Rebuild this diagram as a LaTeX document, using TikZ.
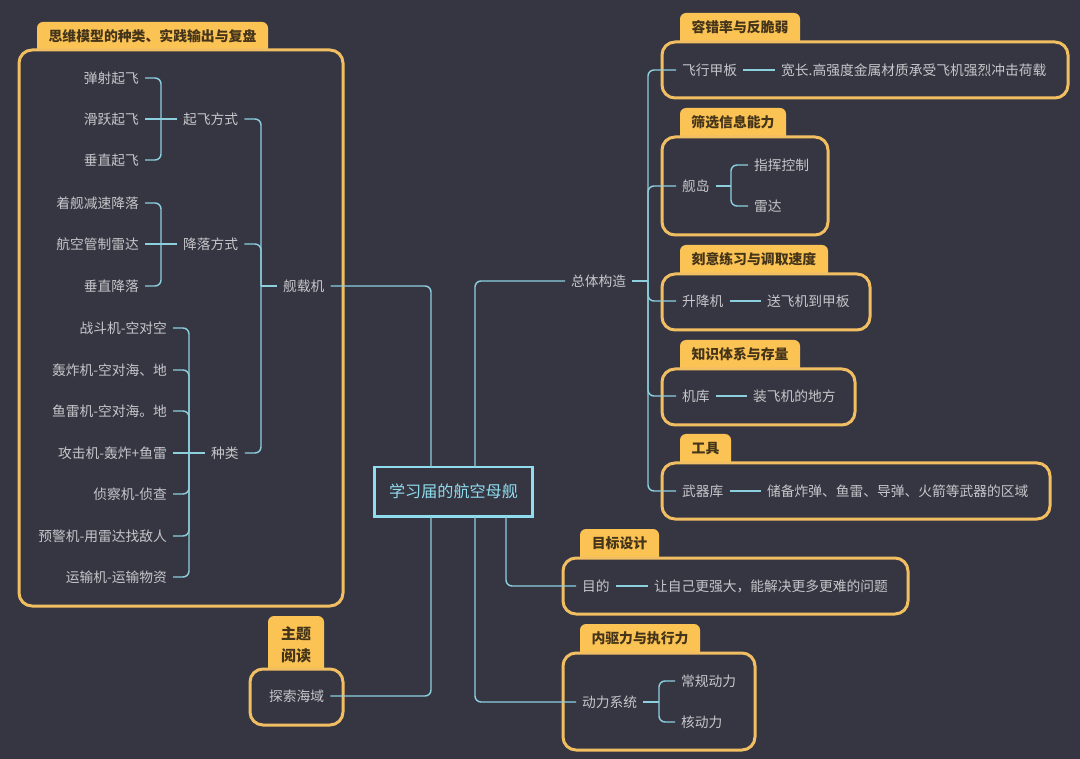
\documentclass[tikz,border=0pt]{standalone}
\usepackage{fontspec}
\setmainfont{Noto Sans CJK SC}
\definecolor{bg}{HTML}{363642}
\definecolor{ink}{HTML}{C6C6CB}
\definecolor{wire}{HTML}{8CCFDF}
\definecolor{rootc}{HTML}{8FDDEE}
\definecolor{edge}{HTML}{F2BE62}
\definecolor{tabc}{HTML}{FBC254}
\definecolor{tabink}{HTML}{43341A}
\tikzset{
  txt/.style={text=ink,font=\fontsize{13.75}{16}\selectfont,inner xsep=6pt,inner ysep=0pt,text height=12pt,text depth=1.4pt},
  conn/.style={draw=wire,line width=1.4pt,rounded corners=6pt},
  tabbase/.style={fill=tabc,rounded corners=6pt,inner sep=0pt,outer sep=0pt,text=tabink,font=\fontsize{13.85}{17}\selectfont\bfseries,anchor=north west},
  tab/.style={tabbase,text height=19.3pt,text depth=14pt},
  boxn/.style={draw=edge,fill=bg,line width=3pt,rounded corners=13pt,inner sep=0pt,outer sep=0pt,anchor=north west},
  rootn/.style={draw=rootc,line width=2.6pt,text=rootc,fill=bg,inner sep=0pt,outer sep=0pt,font=\fontsize{16.1}{19}\selectfont,minimum width=158.5pt,minimum height=49pt}
}
\newcommand\tolft[2]{\draw[conn] (#1.east) -| (#2);}
\newcommand\torgt[2]{\draw[conn] (#2) |- (#1.west);}
\begin{document}
\begin{tikzpicture}[x=1pt,y=-1pt]
\useasboundingbox[fill=bg] (0,0) rectangle (1080,759);
% tabs
\node[tab,minimum width=231pt] (t1) at (37,22) {思维模型的种类、实践输出与复盘};
\node[tabbase,font=\fontsize{15}{22}\selectfont\bfseries,minimum width=56pt,minimum height=58pt,align=center] (t2) at (268,616) {主题\\阅读};
\node[tab,minimum width=120pt] (t3) at (680,13) {容错率与反脆弱};
\node[tab,minimum width=106pt] (t4) at (680,108) {筛选信息能力};
\node[tab,minimum width=148pt] (t5) at (680,245) {刻意练习与调取速度};
\node[tab,minimum width=120pt] (t6) at (680,340) {知识体系与存量};
\node[tab,minimum width=51pt] (t7) at (680,434) {工具};
\node[tab,minimum width=79pt] (t8) at (580,529) {目标设计};
\node[tab,minimum width=120pt] (t9) at (580,624) {内驱力与执行力};
% boxes
\node[boxn,minimum width=324pt,minimum height=556pt] (b1) at (19,50) {};
\node[boxn,minimum width=93pt,minimum height=56pt] (b2) at (250,669) {};
\node[boxn,minimum width=406pt,minimum height=56pt] (b3) at (662,42) {};
\node[boxn,minimum width=166pt,minimum height=98pt] (b4) at (662,137) {};
\node[boxn,minimum width=208pt,minimum height=56pt] (b5) at (662,274) {};
\node[boxn,minimum width=193pt,minimum height=56pt] (b6) at (662,369) {};
\node[boxn,minimum width=388pt,minimum height=56pt] (b7) at (662,463) {};
\node[boxn,minimum width=345pt,minimum height=56pt] (b8) at (563,558) {};
\node[boxn,minimum width=192pt,minimum height=97pt] (b9) at (563,653) {};
% root
\node[rootn] (root) at (453.5,491.7) {学习届的航空母舰};
% left labels
\node[txt,anchor=east] (a1) at (145,78) {弹射起飞};
\node[txt,anchor=east] (a2) at (145,119) {滑跃起飞};
\node[txt,anchor=east] (a3) at (145,160) {垂直起飞};
\node[txt,anchor=east] (a4) at (145,203) {着舰减速降落};
\node[txt,anchor=east] (a5) at (145,244) {航空管制雷达};
\node[txt,anchor=east] (a6) at (145,286) {垂直降落};
\node[txt,anchor=east] (k1) at (173,328) {战斗机-空对空};
\node[txt,anchor=east] (k2) at (173,370) {轰炸机-空对海、地};
\node[txt,anchor=east] (k3) at (173,411) {鱼雷机-空对海。地};
\node[txt,anchor=east] (k4) at (173,453) {攻击机-轰炸+鱼雷};
\node[txt,anchor=east] (k5) at (173,494) {侦察机-侦查};
\node[txt,anchor=east] (k6) at (173,536) {预警机-用雷达找敌人};
\node[txt,anchor=east] (k7) at (173,577) {运输机-运输物资};
\node[txt,anchor=west] (qf) at (177,119) {起飞方式};
\node[txt,anchor=west] (jl) at (177,244) {降落方式};
\node[txt,anchor=west] (zl) at (205,453) {种类};
\node[txt,anchor=west] (jz) at (277,286) {舰载机};
\node[txt,anchor=west] (ts) at (263,696) {探索海域};
% right labels
\node[txt,anchor=west] (zt) at (565,281) {总体构造};
\node[txt,anchor=west] (fx) at (676,70) {飞行甲板};
\node[txt,anchor=west] (fxd) at (775,70) {宽长.高强度金属材质承受飞机强烈冲击荷载};
\node[txt,anchor=west] (jd) at (676,186) {舰岛};
\node[txt,anchor=west] (zh) at (748,165) {指挥控制};
\node[txt,anchor=west] (ld) at (748,206) {雷达};
\node[txt,anchor=west] (sj) at (676,301) {升降机};
\node[txt,anchor=west] (sjd) at (761,301) {送飞机到甲板};
\node[txt,anchor=west] (jk) at (676,396) {机库};
\node[txt,anchor=west] (jkd) at (747,396) {装飞机的地方};
\node[txt,anchor=west] (wq) at (676,491) {武器库};
\node[txt,anchor=west] (wqd) at (761,491) {储备炸弹、鱼雷、导弹、火箭等武器的区域};
\node[txt,anchor=west] (md) at (576,586) {目的};
\node[txt,anchor=west] (mdd) at (648,586) {让自己更强大，能解决更多更难的问题};
\node[txt,anchor=west] (dl) at (576,702) {动力系统};
\node[txt,anchor=west] (cg) at (675,681) {常规动力};
\node[txt,anchor=west] (hd) at (675,722) {核动力};
% junction points
\coordinate (s1) at (161,119);
\coordinate (s2) at (161,244);
\coordinate (s3) at (189,453);
\coordinate (s4) at (261,286);
\coordinate (s5) at (648,281);
\coordinate (s6) at (731,186);
\coordinate (s7) at (659,702);
% left connectors
\tolft{a1}{s1}\tolft{a3}{s1}
\draw[conn] (a2.east) -- (qf.west);
\tolft{a4}{s2}\tolft{a6}{s2}
\draw[conn] (a5.east) -- (jl.west);
\tolft{k1}{s3}\tolft{k2}{s3}\tolft{k3}{s3}\tolft{k5}{s3}\tolft{k6}{s3}\tolft{k7}{s3}
\draw[conn] (k4.east) -- (zl.west);
\tolft{qf}{s4}\tolft{jl}{s4}\tolft{zl}{s4}
\draw[conn] (s4) -- (jz.west);
% root connectors
\draw[conn] (jz.east) -| ([xshift=-22.5pt]root.north);
\draw[conn] (ts.east) -| ([xshift=-22.5pt]root.south);
\draw[conn] ([xshift=21.5pt]root.north) |- (zt.west);
\draw[conn] ([xshift=21.5pt]root.south) |- (dl.west);
\draw[conn] ([xshift=52.5pt]root.south) |- (md.west);
% right connectors
\draw[conn] (zt.east) -- (s5);
\torgt{fx}{s5}\torgt{jd}{s5}\torgt{sj}{s5}\torgt{jk}{s5}\torgt{wq}{s5}
\draw[conn] (fx.east) -- (fxd.west);
\draw[conn] (jd.east) -- (s6);
\torgt{zh}{s6}\torgt{ld}{s6}
\draw[conn] (sj.east) -- (sjd.west);
\draw[conn] (jk.east) -- (jkd.west);
\draw[conn] (wq.east) -- (wqd.west);
\draw[conn] (md.east) -- (mdd.west);
\draw[conn] (dl.east) -- (s7);
\torgt{cg}{s7}\torgt{hd}{s7}
\end{tikzpicture}
\end{document}
